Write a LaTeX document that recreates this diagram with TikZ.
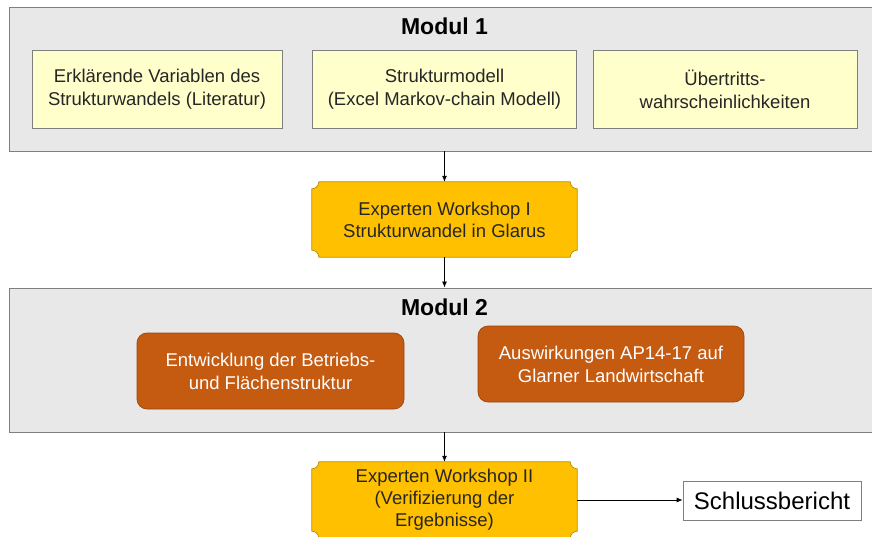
\documentclass[tikz,border=0pt]{standalone}
\usepackage{fontspec}
\setmainfont{Liberation Sans}
\usetikzlibrary{positioning}
\usetikzlibrary{arrows.meta}
\usetikzlibrary{calc}

\definecolor{modulgray}{HTML}{E8E8E8}
\definecolor{modulline}{HTML}{7F7F7F}
\definecolor{paleyellow}{HTML}{FFFFCC}
\definecolor{workgold}{HTML}{FFC000}
\definecolor{workline}{HTML}{B8900A}
\definecolor{rust}{HTML}{C55A11}
\definecolor{rustline}{HTML}{9A460D}
\definecolor{darktext}{HTML}{262626}

\tikzset{
  modul/.style={draw=modulline, fill=modulgray, line width=0.9pt, inner sep=0pt},
  modultitle/.style={font=\fontsize{23}{27}\selectfont\bfseries, text=black},
  inputbox/.style={draw=modulline, fill=paleyellow, line width=0.7pt, inner sep=0pt,
    align=center, text=darktext, font=\fontsize{18.5}{23}\selectfont},
  resultbox/.style={draw=rustline, fill=rust, rounded corners=10pt, line width=0.7pt, inner sep=0pt,
    align=center, text=white, font=\fontsize{18.5}{23}\selectfont},
  plaque/.style={draw=workline, fill=workgold, line width=0.7pt},
  plaquetext/.style={align=center, text=darktext, font=\fontsize{18.5}{22}\selectfont},
  flow/.style={-{Latex[length=6pt,width=5pt]}, line width=0.8pt, black}
}

\begin{document}
\begin{tikzpicture}[x=1pt,y=1pt]
		\useasboundingbox (0,0) rectangle (872,536);

		% Modul 1 with its three inputs
		\node[modul, minimum width=871pt, minimum height=144pt] (m1) at (444.5,457) {};
		\node[modultitle] (m1title) at (444.5,510) {Modul 1};
		\node[inputbox, minimum width=250pt, minimum height=78pt] (var) at (157,447)
			{Erklärende Variablen des\\Strukturwandels (Literatur)};
		\node[inputbox, minimum width=264pt, minimum height=78pt] (markov) at (444.5,447)
			{Strukturmodell\\(Excel Markov-chain Modell)};
		\node[inputbox, minimum width=264pt, minimum height=78pt] (trans) at (725,447)
			{Übertritts-\\wahrscheinlichkeiten};

		% Workshops (shape only, text below)
		\node[minimum width=265pt, minimum height=75pt, inner sep=0pt] (ws1) at (444.5,316.5) {};
		\node[minimum width=265pt, minimum height=76pt, inner sep=0pt] (ws2) at (444.5,36) {};

		\foreach \n in {ws1,ws2}
			\draw[plaque] ($(\n.north west)+(7pt,0)$) -- ($(\n.north east)+(-7pt,0)$)
				arc[start angle=180, end angle=270, radius=7pt] -- ($(\n.south east)+(0,7pt)$)
				arc[start angle=90, end angle=180, radius=7pt] -- ($(\n.south west)+(7pt,0)$)
				arc[start angle=0, end angle=90, radius=7pt] -- ($(\n.north west)+(0,-7pt)$)
				arc[start angle=270, end angle=360, radius=7pt] -- cycle;

		\node[plaquetext] (ws1text) at (ws1) {Experten Workshop I\\Strukturwandel in Glarus};
		\node[plaquetext] (ws2text) at ($(ws2)+(0,0.5)$) {Experten Workshop II\\(Verifizierung der\\Ergebnisse)};

		% Modul 2 with its two results
		\node[modul, minimum width=871pt, minimum height=144pt] (m2) at (444.5,176) {};
		\node[modultitle] (m2title) at (444.5,229) {Modul 2};
		\node[resultbox, minimum width=267pt, minimum height=76pt] (betrieb) at (270.5,165)
			{Entwicklung der Betriebs-\\und Flächenstruktur};
		\node[resultbox, minimum width=266pt, minimum height=76pt] (ap) at (611,172)
			{Auswirkungen AP14-17 auf\\Glarner Landwirtschaft};

		% Final report
		\node[draw=modulline, fill=white, line width=0.7pt, minimum width=178pt, minimum height=39pt,
			inner sep=0pt, font=\fontsize{24}{28}\selectfont] (bericht) at (772,35.5) {Schlussbericht};

		% Draw the arrows
		\draw[flow] (m1.south) -- (ws1.north);
		\draw[flow] (ws1.south) -- (m2.north);
		\draw[flow] (m2.south) -- (ws2.north);
		\draw[flow] (ws2.east) -- (ws2.east -| bericht.west);
	\end{tikzpicture}
\end{document}
